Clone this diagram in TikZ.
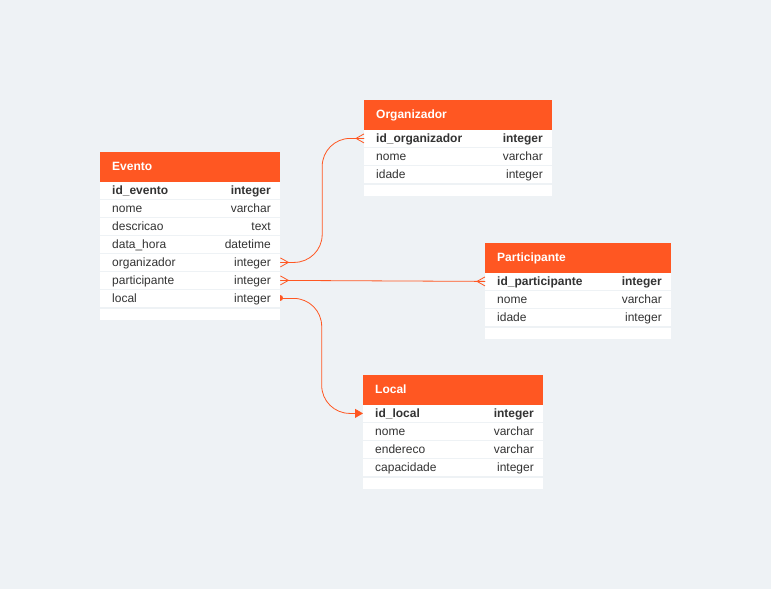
\documentclass[tikz,border=0pt]{standalone}
\usepackage{fontspec}
\setmainfont{Liberation Sans}
\usetikzlibrary{calc,arrows.meta}
\definecolor{bg}{HTML}{EEF2F5}
\definecolor{hdr}{HTML}{FF5722}
\definecolor{txt}{HTML}{333333}
\tikzset{
  hdrbox/.style={fill=hdr, draw=none, anchor=north west, inner sep=0pt, minimum height=30pt},
  rowbox/.style={fill=white, draw=none, anchor=north west, inner sep=0pt, minimum height=16.4pt},
  footbox/.style={fill=white, draw=none, anchor=north west, inner sep=0pt, minimum height=11pt},
  titletext/.style={anchor=base west, inner sep=0pt, text=white, font=\fontsize{12}{14}\selectfont\bfseries},
  fname/.style={anchor=base west, inner sep=0pt, text=txt, font=\fontsize{12}{14}\selectfont},
  ftype/.style={anchor=base east, inner sep=0pt, text=txt, font=\fontsize{12}{14}\selectfont},
  conn/.style={draw=hdr, line width=0.8pt},
  crowL/.pic={\draw[conn] (0,0) -- (-8,-4.5) (0,0) -- (-8,0) (0,0) -- (-8,4.5);},
  crowR/.pic={\draw[conn] (0,0) -- (8,-4.5) (0,0) -- (8,0) (0,0) -- (8,4.5);},
}
\newcommand\mktable[6]{%
  \node[hdrbox, minimum width=#4pt] (#1-h) at (#2,#3) {};
  \node[titletext] (#1-t) at (#2+12,#3+18.3) {#5};
  \foreach [count=\i] \n/\t in {#6} {
    \node[rowbox, minimum width=#4pt] (#1-r\i) at (#2, #3+30+18*\i-18) {};
    \node[fname] (#1-n\i) at (#2+12, #3+24+18*\i) {\ifnum\i=1 \bfseries\fi\n};
    \node[ftype] (#1-y\i) at (#2+#4-9, #3+24+18*\i) {\ifnum\i=1 \bfseries\fi\t};
    \xdef\lastrow{\i}
  }
  \node[footbox, minimum width=#4pt] (#1-f) at (#2, #3+31+18*\lastrow) {};
}
\begin{document}
\begin{tikzpicture}[x=1pt,y=-1pt]
\fill[bg] (0,0) rectangle (771,589);
\useasboundingbox (0,0) rectangle (771,589);

\mktable{ev}{100}{152}{180}{Evento}{id\_evento/integer, nome/varchar, descricao/text, data\_hora/datetime, organizador/integer, participante/integer, local/integer}
\mktable{or}{364}{100}{188}{Organizador}{id\_organizador/integer, nome/varchar, idade/integer}
\mktable{pa}{485}{243}{186}{Participante}{id\_participante/integer, nome/varchar, idade/integer}
\mktable{lo}{363}{375}{180}{Local}{id\_local/integer, nome/varchar, endereco/varchar, capacidade/integer}

% Evento.organizador -> Organizador.id_organizador
\coordinate (m1) at ($(ev-r5.east)!0.5!(or-r1.west)$);
\draw[conn, rounded corners=28pt] (ev-r5.east) -| (m1) |- (or-r1.west);
\pic at ($(ev-r5.east)+(8,0)$) {crowL};
\pic at ($(or-r1.west)+(-8,0)$) {crowR};

% Evento.participante -> Participante.id_participante
\draw[conn] (ev-r6.east) -- (pa-r1.west);
\pic at ($(ev-r6.east)+(8,0)$) {crowL};
\pic at ($(pa-r1.west)+(-8,0)$) {crowR};

% Evento.local -> Local.id_local
\coordinate (m2) at ($(ev-r7.east)!0.5!(lo-r1.west)$);
\draw[conn, rounded corners=28pt, -{Triangle[length=8pt,width=9pt]}] (ev-r7.east) -| (m2) |- (lo-r1.west);
\fill[hdr] ($(ev-r7.east)+(0,-3)$) .. controls +(4,0) and +(4,0) .. ($(ev-r7.east)+(0,3)$) -- cycle;
\end{tikzpicture}
\end{document}
